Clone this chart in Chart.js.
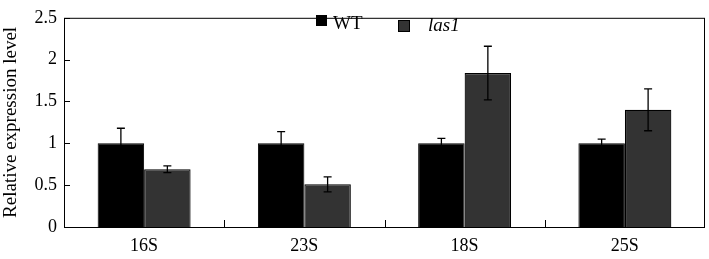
<!DOCTYPE html>
<html>
<head>
<meta charset="utf-8">
<script src="https://cdn.jsdelivr.net/npm/chart.js@4"></script>
<style>
  html, body { margin: 0; padding: 0; background: #fff; }
  #wrap { width: 709px; height: 259px; }
</style>
</head>
<body>
<div id="wrap"><canvas id="MyChart"></canvas></div>
<script>
let categories = ["16S", "23S", "18S", "25S"]
let wtValues = [1.0, 1.0, 1.0, 1.0]
let wtErrors = [0.18, 0.14, 0.06, 0.05]
let las1Values = [0.69, 0.51, 1.84, 1.40]
let las1Errors = [0.04, 0.09, 0.32, 0.25]
let yTicks = [0, 0.5, 1, 1.5, 2, 2.5]

const serif = "'Liberation Serif', 'Times New Roman', serif"

// error bars + frame + inward tick marks + legend inside the plot
const extras = {
    id: 'extras',
    afterDatasetsDraw(chart) {
        const ctx = chart.ctx
        const area = chart.chartArea
        const xs = chart.scales.x
        const ys = chart.scales.y
        const errs = [wtErrors, las1Errors]
        ctx.save()
        ctx.strokeStyle = '#000'
        ctx.lineWidth = 1.3
        chart.data.datasets.forEach((ds, i) => {
            chart.getDatasetMeta(i).data.forEach((bar, j) => {
                const v = ds.data[j]
                const top = ys.getPixelForValue(v + errs[i][j])
                const bot = ys.getPixelForValue(v - errs[i][j])
                ctx.beginPath()
                ctx.moveTo(bar.x, top); ctx.lineTo(bar.x, bot)
                ctx.moveTo(bar.x - 4, top); ctx.lineTo(bar.x + 4, top)
                ctx.moveTo(bar.x - 4, bot); ctx.lineTo(bar.x + 4, bot)
                ctx.stroke()
            })
        })
        // frame
        ctx.lineWidth = 1
        ctx.strokeRect(area.left + 0.5, area.top + 0.5, area.right - area.left - 1, area.bottom - area.top)
        // y tick marks
        yTicks.forEach((t) => {
            const y = Math.round(ys.getPixelForValue(t)) + 0.5
            ctx.beginPath(); ctx.moveTo(area.left, y); ctx.lineTo(area.left + 6, y); ctx.stroke()
        })
        // x tick marks between categories
        for (let k = 1; k < categories.length; k++) {
            const x = Math.round((xs.getPixelForValue(k - 1) + xs.getPixelForValue(k)) / 2) + 0.5
            ctx.beginPath(); ctx.moveTo(x, area.bottom); ctx.lineTo(x, area.bottom - 7); ctx.stroke()
        }
        // legend
        ctx.fillStyle = '#000'
        ctx.fillRect(316, 15, 11, 11)
        ctx.fillStyle = '#333'
        ctx.fillRect(398, 20, 12, 12)
        ctx.strokeRect(398.5, 20.5, 11, 11)
        ctx.fillStyle = '#000'
        ctx.textBaseline = 'alphabetic'
        ctx.font = '19px ' + serif
        ctx.fillText('WT', 333, 29)
        ctx.font = 'italic 19px ' + serif
        ctx.fillText('las1', 428, 31)
        ctx.restore()
    }
}

const data = {
    labels: categories,
    datasets: [{
        label: 'WT',
        data: wtValues,
        backgroundColor: '#000',
        borderColor: '#000',
        borderWidth: 1
    }, {
        label: 'las1',
        data: las1Values,
        backgroundColor: '#333',
        borderColor: '#000',
        borderWidth: 1.2
    }]
}

const config = {
    type: 'bar',
    data: data,
    options: {
        responsive: true,
        maintainAspectRatio: false,
        animation: false,
        layout: { padding: { top: 8, right: 4, left: 0, bottom: 0 } },
        datasets: { bar: { categoryPercentage: 0.58, barPercentage: 1 } },
        plugins: { legend: { display: false }, tooltip: { enabled: false } },
        scales: {
            x: {
                grid: { display: false, drawTicks: false },
                border: { display: false },
                ticks: { color: '#000', font: { family: serif, size: 18 }, padding: 8 },
                afterFit: (s) => { s.height = 32 }
            },
            y: {
                min: 0, max: 2.5,
                afterBuildTicks: (s) => { s.ticks = yTicks.map((v) => ({ value: v })) },
                grid: { display: false, drawTicks: false },
                border: { display: false },
                ticks: { color: '#000', font: { family: serif, size: 18 }, padding: 7,
                         callback: (v) => String(v) },
                title: { display: true, text: 'Relative expression level', color: '#000',
                         font: { family: serif, size: 19 }, padding: 0 },
                afterFit: (s) => { s.width = 64 }
            }
        }
    },
    plugins: [extras]
}

new Chart(document.getElementById('MyChart'), config)
</script>
</body>
</html>
